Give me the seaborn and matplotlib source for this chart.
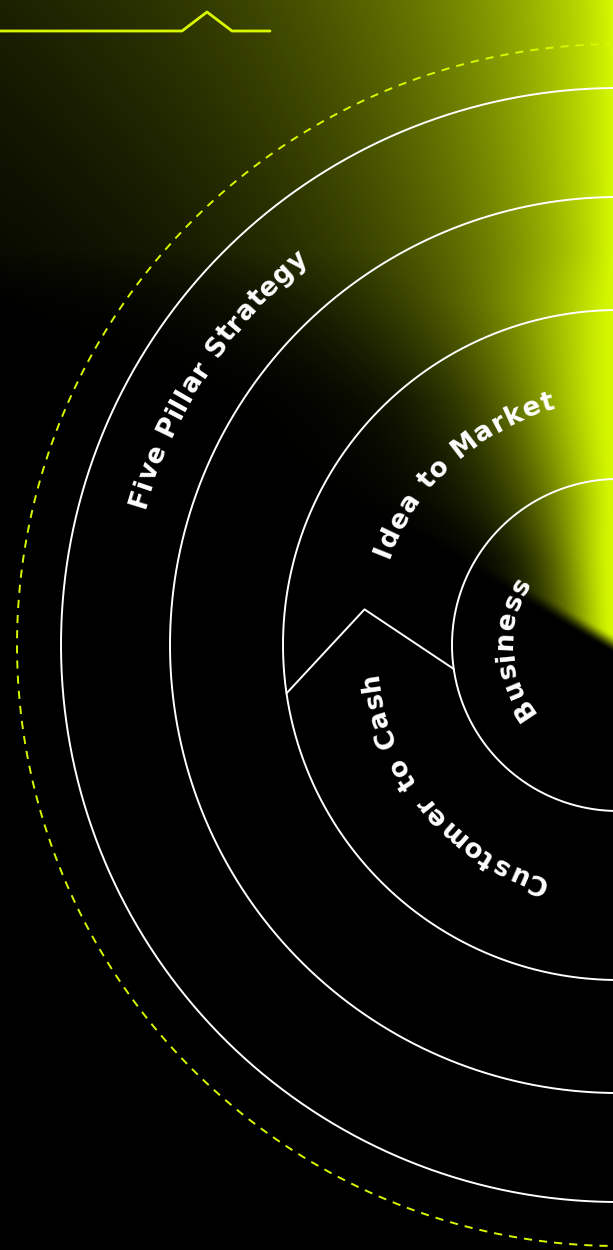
import numpy as np
import pandas as pd
import seaborn as sns
import matplotlib.pyplot as plt
from matplotlib.font_manager import FontProperties, findfont, get_font

sns.set_theme(style="white")
plt.rcParams["font.family"] = ["DejaVu Sans"]

# --- data -------------------------------------------------------------
center = (618, 645)
ring_radii = [166, 335, 448, 557]
dashed_radius = 601

labels = ["Business", "Idea to Market", "Customer to Cash", "Five Pillar Strategy"]
label_radius = [113, 252, 250, 500]
label_start = [213.6, 158.3, 251.1, 162.9]   # angle of first letter (deg)
label_end = [148.9, 106.1, 188.4, 129.9]     # angle of last letter (deg)

# chevron that splits "Idea to Market" from "Customer to Cash"
sep_angle = [188.3, 172.0, 188.3]
sep_radius = [335, 256, 166]

# little zigzag in the top left corner
deco_x = [0, 182, 207, 232, 270]
deco_y = [31, 31, 12, 31, 31]

W, H = 613, 1250
lime = np.array([0.84, 0.98, 0.0])

fig = plt.figure(figsize=(6.13, 12.5), dpi=100)
ax = fig.add_axes([0, 0, 1, 1])
ax.set_facecolor("black")

# --- glow background (fades in from the right edge) -----------------------
yy, xx = np.mgrid[0:H, 0:W] + 0.5
half = np.interp(yy, [0, 250, 300, 400, 500, 560, 640], [183, 128, 123, 93, 63, 51, 40])
shape = np.interp(yy, [0, 250, 300, 400, 500, 560, 640], [0.9, 0.96, 1.2, 1.45, 1.35, 1.6, 1.6])
glow = np.exp(-0.69 * ((W - xx) / half) ** shape)
edge = 613 + (xx - 560) * 0.566
cut = np.clip((edge - yy) / 20 + 0.5, 0, 1)
glow = glow * cut * cut * (3 - 2 * cut)
ax.imshow(glow[..., None] * lime, extent=(0, W, H, 0), zorder=0, interpolation="bilinear")

# --- rings ----------------------------------------------------------------
phi = np.linspace(0, 2 * np.pi, 1440)
for r in ring_radii:
    ring = pd.DataFrame({"x": center[0] + r * np.cos(phi), "y": center[1] - r * np.sin(phi)})
    sns.lineplot(data=ring, x="x", y="y", sort=False, estimator=None,
                 color="white", lw=1.4, ax=ax, zorder=3)

dashed = pd.DataFrame({"x": center[0] + dashed_radius * np.cos(phi),
                       "y": center[1] - dashed_radius * np.sin(phi)})
sns.lineplot(data=dashed, x="x", y="y", sort=False, estimator=None, color="#d8f700",
             lw=1.4, linestyle=(0, (4.2, 3.6)), ax=ax, zorder=3)

sep = pd.DataFrame({"x": [center[0] + r * np.cos(np.radians(a)) for a, r in zip(sep_angle, sep_radius)],
                    "y": [center[1] - r * np.sin(np.radians(a)) for a, r in zip(sep_angle, sep_radius)]})
sns.lineplot(data=sep, x="x", y="y", sort=False, estimator=None, color="white", lw=1.4, ax=ax, zorder=3)

deco = pd.DataFrame({"x": deco_x, "y": deco_y})
sns.lineplot(data=deco, x="x", y="y", sort=False, estimator=None, color="#d8f700", lw=2.0, ax=ax, zorder=3)

# --- curved labels --------------------------------------------------------
fs = 19
fs_px = fs * 100 / 72
fp = FontProperties(family="DejaVu Sans", weight="bold", size=fs)
font = get_font(findfont(fp))
font.set_size(fs, 100)

for text, r, a0, a1 in zip(labels, label_radius, label_start, label_end):
    adv = [font.load_char(ord(c)).linearHoriAdvance / 65536 for c in text]
    th0, th1 = np.radians(a0), np.radians(a1)
    natural = adv[0] / 2 + sum(adv[1:-1]) + adv[-1] / 2
    sp = (r * (th0 - th1) - natural) / (len(text) - 1)
    pos = 0.0
    rb = r - 0.28 * fs_px
    for i, c in enumerate(text):
        if i > 0:
            pos += adv[i - 1] / 2 + sp + adv[i] / 2
        th = th0 - pos / r
        ax.text(center[0] + rb * np.cos(th), center[1] - rb * np.sin(th), c,
                rotation=np.degrees(th) - 90, rotation_mode="anchor",
                ha="center", va="baseline", fontproperties=fp, color="white", zorder=4)

ax.set_xlim(0, W)
ax.set_ylim(H, 0)
ax.set_aspect("auto")
ax.axis("off")

fig.savefig("out.png", dpi=100, facecolor="black")
